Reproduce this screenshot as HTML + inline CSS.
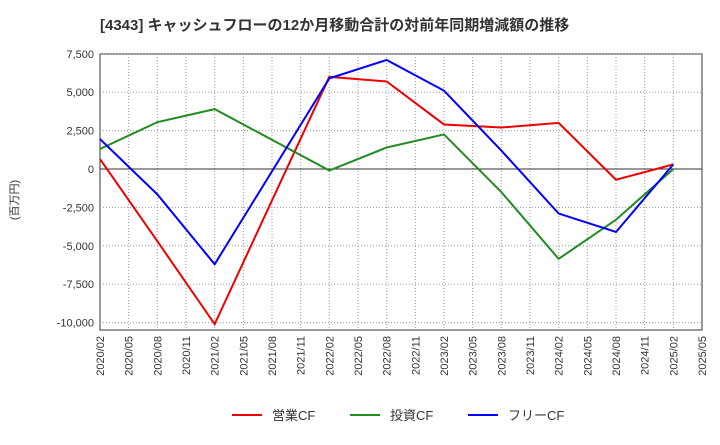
<!DOCTYPE html>
<html><head><meta charset="utf-8"><style>
body{margin:0;background:#fff;font-family:"Liberation Sans","Noto Sans CJK JP",sans-serif;}
</style></head><body>
<svg width="720" height="440" xmlns="http://www.w3.org/2000/svg" id="chart" font-family="Liberation Sans, Noto Sans CJK JP, sans-serif">
<text x="100" y="30" font-size="15" font-weight="bold" fill="#333">[4343]  キャッシュフローの12か月移動合計の対前年同期増減額の推移</text>
<rect x="100" y="54" width="602" height="276" fill="#fff" stroke="#333"/>
<g id="grid"></g><g id="axes"></g><g id="series"></g>
<text transform="translate(18,200) rotate(-90)" text-anchor="middle" font-size="11" fill="#333">(百万円)</text>
<g>
<line x1="232" y1="415" x2="262" y2="415" stroke="#e00" stroke-width="2"/>
<text x="272" y="420" font-size="13" fill="#333">営業CF</text>
<line x1="350" y1="415" x2="380" y2="415" stroke="#228b22" stroke-width="2"/>
<text x="390" y="420" font-size="13" fill="#333">投資CF</text>
<line x1="468" y1="415" x2="498" y2="415" stroke="#00f" stroke-width="2"/>
<text x="508" y="420" font-size="13" fill="#333">フリーCF</text>
</g>
</svg>
<script>
const tickLabels=["2020/02","2020/05","2020/08","2020/11","2021/02","2021/05","2021/08","2021/11","2022/02","2022/05","2022/08","2022/11","2023/02","2023/05","2023/08","2023/11","2024/02","2024/05","2024/08","2024/11","2025/02","2025/05"];
const yTicks=[7500,5000,2500,0,-2500,-5000,-7500,-10000];
const pointMonths=[0,6,12,24,30,36,42,48,54,60];
const operatingCF=[650,-4700,-10100,6000,5700,2900,2700,3000,-700,300];
const investingCF=[1300,3050,3900,-100,1400,2250,-1500,-5850,-3300,0];
const freeCF=[1950,-1650,-6200,5900,7100,5100,1200,-2900,-4100,300];
const NS="http://www.w3.org/2000/svg";
const X0=100,X1=702,Y0=54,Y1=330;
const xm=m=>X0+m*(X1-X0)/63;
const ys=v=>169+(0-v)*(38.4/2500);
function mk(t,a,p){const e=document.createElementNS(NS,t);for(const k in a)e.setAttribute(k,a[k]);p.appendChild(e);return e;}
const grid=document.getElementById('grid'),axes=document.getElementById('axes'),ser=document.getElementById('series');
tickLabels.forEach((l,i)=>{const x=xm(i*3);
 if(i>0&&i<tickLabels.length-1){const g=mk('line',{x1:x,x2:x,y1:Y0,y2:Y1,stroke:'#999','stroke-dasharray':'1,2'},grid);
 
 }
 const t=mk('text',{transform:`translate(${x+4},${Y1+6}) rotate(-90)`,'text-anchor':'end','font-size':'11',fill:'#333'},axes);t.textContent=l;
 
 });
yTicks.forEach(v=>{const y=ys(v);
 const g=mk('line',{x1:X0,x2:X1,y1:y,y2:y,stroke:v===0?'#333':'#999','stroke-dasharray':v===0?'':'1,2'},grid);
 
 
 const t=mk('text',{x:X0-6,y:y+4,'text-anchor':'end','font-size':'11',fill:'#333'},axes);t.textContent=v.toLocaleString('en-US');
 
 });
[[operatingCF,'#e00','operating-cf-line'],[investingCF,'#228b22','investing-cf-line'],[freeCF,'#00f','free-cf-line']].forEach(([d,c,n])=>{
 const p=mk('polyline',{points:d.map((v,i)=>xm(pointMonths[i])+','+ys(v)).join(' '),fill:'none',stroke:c,'stroke-width':2},ser);
 
 });
</script>
</body></html>
